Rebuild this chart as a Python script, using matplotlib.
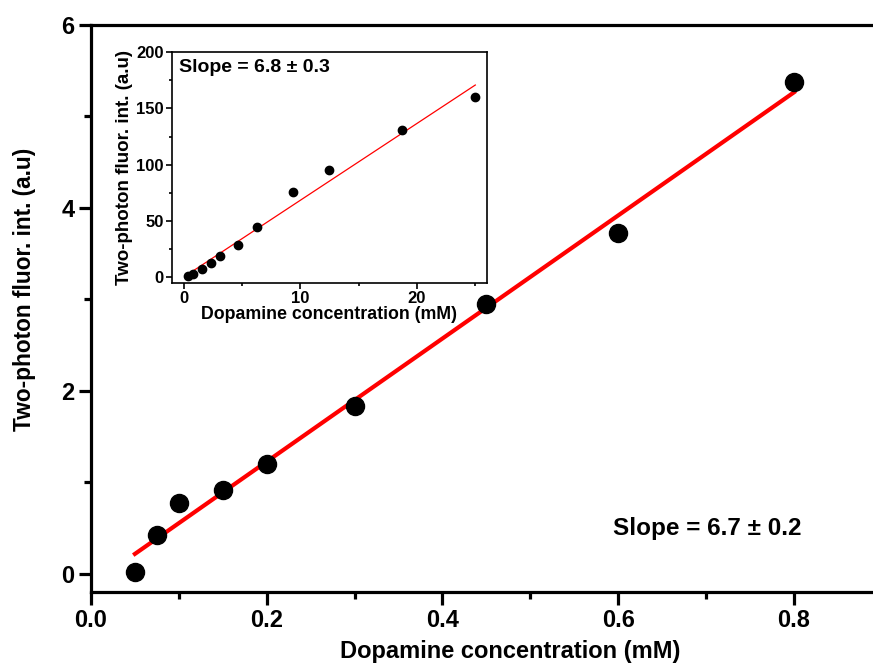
import numpy as np
import matplotlib
matplotlib.use('Agg')
import matplotlib.pyplot as plt
from matplotlib.ticker import MultipleLocator

plt.rcParams['font.family'] = ['Liberation Sans', 'DejaVu Sans']
plt.rcParams['font.weight'] = 'bold'

# main data (mM vs a.u.)
conc = [0.05, 0.075, 0.1, 0.15, 0.2, 0.3, 0.45, 0.6, 0.8]
fluor = [0.02, 0.42, 0.77, 0.92, 1.20, 1.83, 2.95, 3.73, 5.38]
fit_main = (6.73, -0.12)   # slope, intercept
fit_range_main = [0.05, 0.8]

# inset data
conc_in = [0.39, 0.78, 1.56, 2.34, 3.125, 4.69, 6.25, 9.375, 12.5, 18.75, 25.0]
fluor_in = [0.9, 2.7, 7.7, 13.0, 19.0, 29.0, 45.0, 75.6, 95.7, 130.7, 160.0]
fit_inset = (6.82, 0.2)
fit_range_inset = [0.37, 25.0]

fig = plt.figure(figsize=(8.73, 6.66), dpi=100)

# main plot
ax = fig.add_axes([0.1042, 0.1111, 0.906, 0.8514])
ax.plot(conc, fluor, 'o', color='black', markersize=13, zorder=3)
xf = np.array(fit_range_main)
ax.plot(xf, fit_main[0] * xf + fit_main[1], color='red', lw=3, zorder=2)
ax.set_xlim(0, 0.9)
ax.set_ylim(-0.2, 6)
ax.xaxis.set_major_locator(MultipleLocator(0.2))
ax.xaxis.set_minor_locator(MultipleLocator(0.1))
ax.yaxis.set_major_locator(MultipleLocator(2))
ax.yaxis.set_minor_locator(MultipleLocator(1))
ax.spines['right'].set_visible(False)
for s in ['left', 'bottom', 'top']:
    ax.spines[s].set_linewidth(2.3)
ax.tick_params(which='major', direction='out', length=9, width=2.3, labelsize=17, pad=3)
ax.tick_params(which='minor', direction='out', length=5, width=2.3)
ax.set_xlabel('Dopamine concentration (mM)', fontsize=17, fontweight='bold')
ax.set_ylabel('Two-photon fluor. int. (a.u)', fontsize=16.3, fontweight='bold')
ax.xaxis.set_label_coords(0.53, -0.085)
ax.yaxis.set_label_coords(-0.069, 0.533)
ax.text(0.594, 0.49, 'Slope = 6.7 \u00b1 0.2', fontsize=17.5, fontweight='bold',
        va='center', ha='left')

# inset
axi = fig.add_axes([0.197, 0.5751, 0.3608, 0.3468])
axi.plot(conc_in, fluor_in, 'o', color='black', markersize=6, zorder=3)
xi = np.array(fit_range_inset)
axi.plot(xi, fit_inset[0] * xi + fit_inset[1], color='red', lw=0.9, zorder=2)
axi.set_xlim(-1, 26)
axi.set_ylim(-5, 200)
axi.xaxis.set_major_locator(MultipleLocator(10))
axi.xaxis.set_minor_locator(MultipleLocator(5))
axi.yaxis.set_major_locator(MultipleLocator(50))
axi.yaxis.set_minor_locator(MultipleLocator(25))
for s in axi.spines.values():
    s.set_linewidth(1.2)
axi.tick_params(which='major', direction='out', length=4, width=1.2, labelsize=12, pad=2)
axi.tick_params(which='minor', direction='out', length=2.5, width=1.2)
axi.set_xlabel('Dopamine concentration (mM)', fontsize=12.8, fontweight='bold', labelpad=0)
axi.set_ylabel('Two-photon fluor. int. (a.u)', fontsize=13.5, fontweight='bold', labelpad=2)
axi.text(0.022, 0.935, 'Slope = 6.8 \u00b1 0.3', transform=axi.transAxes, fontsize=14,
         fontweight='bold', va='center', ha='left')

fig.savefig('out.png', dpi=100)
